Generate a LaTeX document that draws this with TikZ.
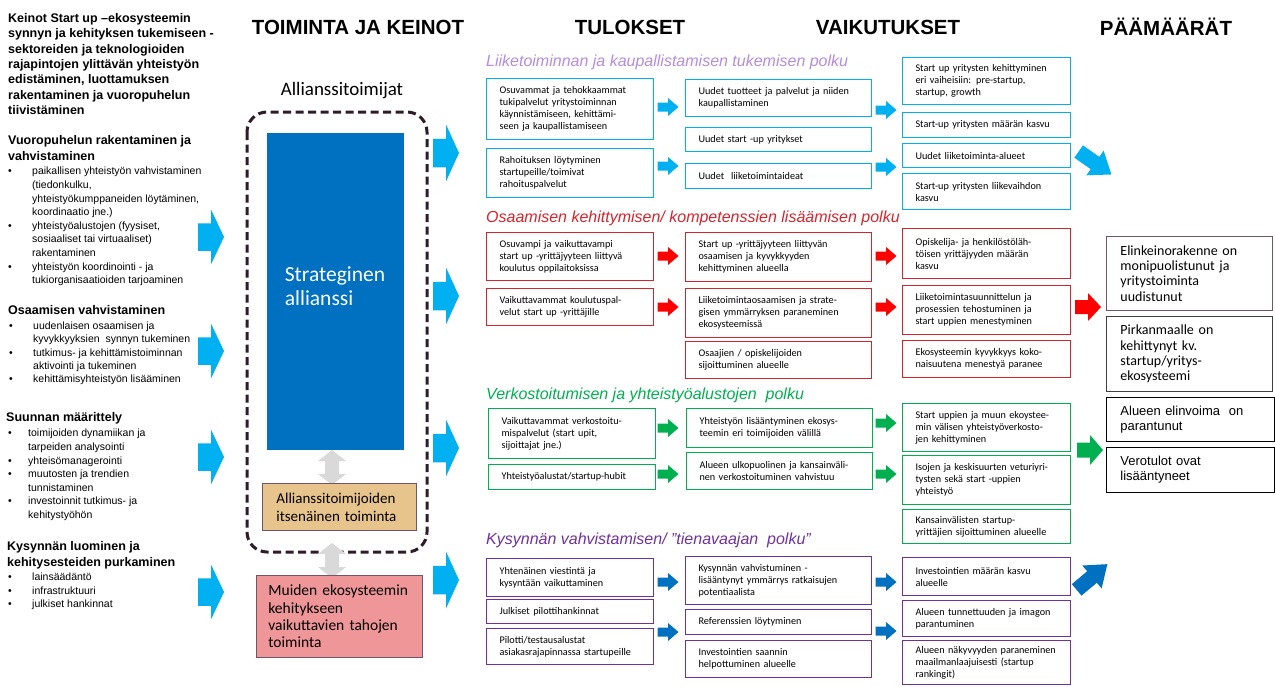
\documentclass[tikz,border=0pt]{standalone}
\usepackage{fontspec}
\setmainfont{Liberation Sans}
\newfontfamily\corbel{Carlito}

\definecolor{cyanarrow}{HTML}{00B0F0}
\definecolor{bluearrow}{HTML}{0070C0}
\definecolor{redarrow}{HTML}{FF0000}
\definecolor{redline}{RGB}{214,36,44}
\definecolor{greenline}{HTML}{00B050}
\definecolor{purpleline}{HTML}{7030A0}
\definecolor{lavender}{RGB}{180,140,224}
\definecolor{darkdash}{RGB}{46,28,43}
\definecolor{tanfill}{RGB}{230,196,140}
\definecolor{pinkfill}{RGB}{239,150,153}
\definecolor{boxline}{RGB}{112,86,104}
\definecolor{softgray}{RGB}{217,217,217}

% block arrow: [rotation]{colour}{x}{y}{length}{height}
\newcommand{\barrow}[6][0]{%
  \fill[#2, shift={(#3,#4)}, rotate=#1]
    (-#5/2,-#6/4) -- (0,-#6/4) -- (0,-#6/2) -- (#5/2,0) -- (0,#6/2) -- (0,#6/4) -- (-#5/2,#6/4) -- cycle;
}
% vertical two-way arrow: {x}{top}
\newcommand{\twoway}[2]{%
  \fill[softgray] (#1,#2) -- ++(14,11) -- ++(-7,0) -- ++(0,13) -- ++(7,0) -- ++(-14,11)
    -- ++(-14,-11) -- ++(7,0) -- ++(0,-13) -- ++(-7,0) -- cycle;
}
\newcommand{\bitem}[1][24pt]{\makebox[#1][l]{\textbullet}}
\newcommand{\bcont}[1][24pt]{\hspace*{#1}}

\tikzset{
  pathbox/.style={draw, line width=1.1pt, anchor=north west, align=left,
    inner xsep=13pt, inner ysep=1pt, font=\corbel\fontsize{10.2}{12}\selectfont},
  colA/.style={pathbox, text width=141pt},
  colB/.style={pathbox, text width=160pt},
  colC/.style={pathbox, text width=142pt},
  pathtitle/.style={anchor=west, inner sep=0pt, font=\itshape\fontsize{16}{18}\selectfont},
  header/.style={inner sep=0pt, font=\bfseries\fontsize{20.5}{22}\selectfont},
  lefthead/.style={anchor=west, align=left, inner sep=0pt, font=\bfseries\fontsize{12.5}{16}\selectfont},
  leftlist/.style={anchor=west, align=left, inner sep=0pt, font=\fontsize{10.5}{13.6}\selectfont},
  goalbox/.style={draw, line width=0.9pt, anchor=north west, align=left,
    inner xsep=14pt, inner ysep=1pt, text width=138pt},
}

\begin{document}
\begin{tikzpicture}[x=1pt, y=-1pt]
  \useasboundingbox (0,0) rectangle (1275,686);

  % column headers
  \node[header] (hkeinot) at (358,27) {TOIMINTA JA KEINOT};
  \node[header] (htulos) at (630,27) {TULOKSET};
  \node[header] (hvaik) at (888,27) {VAIKUTUKSET};
  \node[header] (hgoal) at (1166,27) {PÄÄMÄÄRÄT};

  % left column
  \node[lefthead, font=\bfseries\fontsize{12.5}{15.3}\selectfont] (intro) at (8,64)
    {Keinot Start up –ekosysteemin\\synnyn ja kehityksen tukemiseen -\\sektoreiden ja teknologioiden\\rajapintojen ylittävän yhteistyön\\edistäminen, luottamuksen\\rakentaminen ja vuoropuhelun\\tiivistäminen};
  \node[lefthead] (dialog) at (8,148.5) {Vuoropuhelun rakentaminen ja\\vahvistaminen};
  \node[leftlist] (dialoglist) at (8,226.5)
    {\bitem paikallisen yhteistyön vahvistaminen\\\bcont(tiedonkulku,\\\bcont yhteistyökumppaneiden löytäminen,\\\bcont koordinaatio jne.)\\
     \bitem yhteistyöalustojen (fyysiset,\\\bcont sosiaaliset tai virtuaaliset)\\\bcont rakentaminen\\
     \bitem yhteistyön koordinointi - ja\\\bcont tukiorganisaatioiden tarjoaminen};
  \node[lefthead] (skills) at (8,310) {Osaamisen vahvistaminen};
  \node[leftlist, font=\fontsize{10.5}{13.3}\selectfont] (skillslist) at (9,353.5)
    {\bitem uudenlaisen osaamisen ja\\\bcont kyvykkyyksien\ \ synnyn tukeminen\\
     \bitem tutkimus- ja kehittämistoiminnan\\\bcont aktivointi ja tukeminen\\
     \bitem kehittämisyhteistyön lisääminen};
  \node[lefthead] (direction) at (6,418) {Suunnan määrittely};
  \node[leftlist] (directionlist) at (8,475)
    {\bitem[20pt]toimijoiden dynamiikan ja\\\bcont[20pt]tarpeiden analysointi\\
     \bitem[20pt]yhteisömanagerointi\\
     \bitem[20pt]muutosten ja trendien\\\bcont[20pt]tunnistaminen\\
     \bitem[20pt]investoinnit tutkimus- ja\\\bcont[20pt]kehitystyöhön};
  \node[lefthead] (demand) at (7,555) {Kysynnän luominen ja\\kehitysesteiden purkaminen};
  \node[leftlist] (demandlist) at (8,591.5)
    {\bitem lainsäädäntö\\\bitem infrastruktuuri\\\bitem julkiset hankinnat};

  \foreach \y in {237,351,457,592} {
    \barrow{cyanarrow}{211}{\y}{26}{55}
  }

  % alliance
  \node[font=\corbel\fontsize{19}{21}\selectfont, inner sep=0pt] (actors) at (342,91) {Allianssitoimijat};
  \draw[darkdash, line width=3pt, dash pattern=on 8pt off 4.5pt, rounded corners=20pt]
    (247,112) rectangle (427,552);
  \node[fill=bluearrow, anchor=north west, minimum width=137, minimum height=317, inner sep=0pt]
    (alliance) at (267,133) {};
  \node[white, align=left, inner sep=0pt, font=\corbel\fontsize{21.5}{24}\selectfont]
    (alliancetext) at (335,286) {Strateginen\\allianssi};
  \twoway{332}{450}
  \node[draw=boxline, fill=tanfill, line width=0.8pt, anchor=north west, align=left,
    minimum height=47, text width=126pt, inner xsep=14pt, inner ysep=1pt,
    font=\corbel\fontsize{15}{18}\selectfont] (own) at (262,483)
    {Allianssitoimijoiden\\itsenäinen toiminta};
  \twoway{332}{543}
  \node[draw=boxline, fill=pinkfill, line width=0.8pt, anchor=north west, align=left,
    minimum height=82, text width=142pt, inner xsep=12pt, inner ysep=1pt,
    font=\corbel\fontsize{15.5}{17.3}\selectfont] (others) at (256,575)
    {Muiden ekosysteemin\\kehitykseen\\vaikuttavien tahojen\\toiminta};

  \foreach \y in {153,296,448,580} {
    \barrow{cyanarrow}{446}{\y}{26}{57}
  }

  % path 1
  \node[pathtitle, lavender] (p1) at (486,62) {Liiketoiminnan ja kaupallistamisen tukemisen polku};
  \begin{scope}[every node/.append style={draw=cyanarrow}]
    \node[colA, minimum height=61] (p1a1) at (486,78) {Osuvammat ja tehokkaammat\\tukipalvelut yritystoiminnan\\käynnistämiseen, kehittämi-\\seen ja kaupallistamiseen};
    \node[colA, minimum height=49] (p1a2) at (486,148) {Rahoituksen löytyminen\\startupeille/toimivat\\rahoituspalvelut};
    \node[colB, minimum height=37] (p1b1) at (685,79) {Uudet tuotteet ja palvelut ja niiden\\kaupallistaminen};
    \node[colB, minimum height=24] (p1b2) at (685,127) {Uudet start -up yritykset};
    \node[colB, minimum height=25] (p1b3) at (685,163) {Uudet\ \ liiketoimintaideat};
    \node[colC, minimum height=47] (p1c1) at (902,57) {Start up yritysten kehittyminen\\eri vaiheisiin: pre-startup,\\startup, growth};
    \node[colC, minimum height=25] (p1c2) at (902,112) {Start-up yritysten määrän kasvu};
    \node[colC, minimum height=24] (p1c3) at (902,143) {Uudet liiketoiminta-alueet};
    \node[colC, minimum height=36] (p1c4) at (902,173) {Start-up yritysten liikevaihdon\\kasvu};
  \end{scope}
  \foreach \x/\y in {668/107,668/166,886/110,886/167} {
    \barrow{cyanarrow}{\x}{\y}{21}{18}
  }
  \barrow[-35]{cyanarrow}{1095}{163}{40}{30}

  % path 2
  \node[pathtitle, redline] (p2) at (486,218) {Osaamisen kehittymisen/ kompetenssien lisäämisen polku};
  \begin{scope}[every node/.append style={draw=redline}]
    \node[colA, minimum height=48] (p2a1) at (486,232) {Osuvampi ja vaikuttavampi\\start up -yrittäjyyteen liittyvä\\koulutus oppilaitoksissa};
    \node[colA, minimum height=37] (p2a2) at (486,288) {Vaikuttavammat koulutuspal-\\velut start up -yrittäjille};
    \node[colB, minimum height=49] (p2b1) at (685,232) {Start up -yrittäjyyteen liittyvän\\osaamisen ja kyvykkyyden\\kehittyminen alueella};
    \node[colB, minimum height=49] (p2b2) at (685,288) {Liiketoimintaosaamisen ja strate-\\gisen ymmärryksen paraneminen\\ekosysteemissä};
    \node[colB, minimum height=37] (p2b3) at (685,341) {Osaajien / opiskelijoiden\\sijoittuminen alueelle};
    \node[colC, minimum height=50] (p2c1) at (902,228) {Opiskelija- ja henkilöstöläh-\\töisen yrittäjyyden määrän\\kasvu};
    \node[colC, minimum height=49] (p2c2) at (902,285) {Liiketoimintasuunnittelun ja\\prosessien tehostuminen ja\\start uppien menestyminen};
    \node[colC, minimum height=37] (p2c3) at (902,340) {Ekosysteemin kyvykkyys koko-\\naisuutena menestyä paranee};
  \end{scope}
  \foreach \x/\y in {668/256,668/307,886/256,886/307} {
    \barrow{redarrow}{\x}{\y}{21}{18}
  }
  \barrow{redarrow}{1088}{307}{26}{28}

  % path 3
  \node[pathtitle, greenline] (p3) at (486,395) {Verkostoitumisen ja yhteistyöalustojen\ \ polku};
  \begin{scope}[every node/.append style={draw=greenline}]
    \node[colA, minimum height=50] (p3a1) at (488,408) {Vaikuttavammat verkostoitu-\\mispalvelut (start upit,\\sijoittajat jne.)};
    \node[colA, minimum height=25] (p3a2) at (488,464) {Yhteistyöalustat/startup-hubit};
    \node[colB, minimum height=39] (p3b1) at (686,408) {Yhteistyön lisääntyminen ekosys-\\teemin eri toimijoiden välillä};
    \node[colB, minimum height=37] (p3b2) at (686,452) {Alueen ulkopuolinen ja kansainväli-\\nen verkostoituminen vahvistuu};
    \node[colC, minimum height=48] (p3c1) at (902,403) {Start uppien ja muun ekoystee-\\min välisen yhteistyöverkosto-\\jen kehittyminen};
    \node[colC, minimum height=49] (p3c2) at (902,455) {Isojen ja keskisuurten veturiyri-\\tysten sekä start -uppien\\yhteistyö};
    \node[colC, minimum height=34] (p3c3) at (902,509) {Kansainvälisten startup-\\yrittäjien sijoittuminen alueelle};
  \end{scope}
  \foreach \x/\y in {668/428,668/474,886/423,886/474} {
    \barrow{greenline}{\x}{\y}{21}{18}
  }
  \barrow{greenline}{1090}{450}{26}{30}

  % path 4
  \node[pathtitle, purpleline] (p4) at (486,540) {Kysynnän vahvistamisen/ ”tienavaajan\ \ polku”};
  \begin{scope}[every node/.append style={draw=purpleline}]
    \node[colA, minimum height=38] (p4a1) at (486,558) {Yhtenäinen viestintä ja\\kysyntään vaikuttaminen};
    \node[colA, minimum height=24] (p4a2) at (486,599) {Julkiset pilottihankinnat};
    \node[colA, minimum height=36] (p4a3) at (486,628) {Pilotti/testausalustat\\asiakasrajapinnassa startupeille};
    \node[colB, minimum height=48] (p4b1) at (685,556) {Kysynnän vahvistuminen -\\lisääntynyt ymmärrys ratkaisujen\\potentiaalista};
    \node[colB, minimum height=25] (p4b2) at (685,609) {Referenssien löytyminen};
    \node[colB, minimum height=37] (p4b3) at (685,640) {Investointien saannin\\helpottuminen alueelle};
    \node[colC, minimum height=38] (p4c1) at (902,557) {Investointien määrän kasvu\\alueelle};
    \node[colC, minimum height=36] (p4c2) at (902,600) {Alueen tunnettuuden ja imagon\\parantuminen};
    \node[colC, minimum height=44] (p4c3) at (902,640) {\mbox{Alueen näkyvyyden paraneminen}\\maailmanlaajuisesti (startup\\rankingit)};
  \end{scope}
  \foreach \x/\y in {668/582,668/632,886/582,886/631} {
    \barrow{bluearrow}{\x}{\y}{21}{18}
  }
  \barrow[40]{bluearrow}{1092}{577}{40}{30}

  % goals
  \node[goalbox, draw=boxline, minimum height=74, font=\corbel\fontsize{14}{15.2}\selectfont] (g1) at (1106,236)
    {Elinkeinorakenne on\\monipuolistunut ja\\yritystoiminta\\uudistunut};
  \node[goalbox, draw=black!75, minimum height=75, font=\corbel\fontsize{14}{15.2}\selectfont] (g2) at (1106,316)
    {Pirkanmaalle on\\kehittynyt kv.\\startup/yritys-\\ekosysteemi};
  \node[goalbox, draw=black, text width=140pt, minimum height=44, font=\fontsize{13}{15}\selectfont] (g3) at (1106,397)
    {Alueen elinvoima\ \ on\\parantunut};
  \node[goalbox, draw=black, text width=140pt, minimum height=45, font=\fontsize{13}{15}\selectfont] (g4) at (1106,447)
    {Verotulot ovat\\lisääntyneet};
\end{tikzpicture}
\end{document}
